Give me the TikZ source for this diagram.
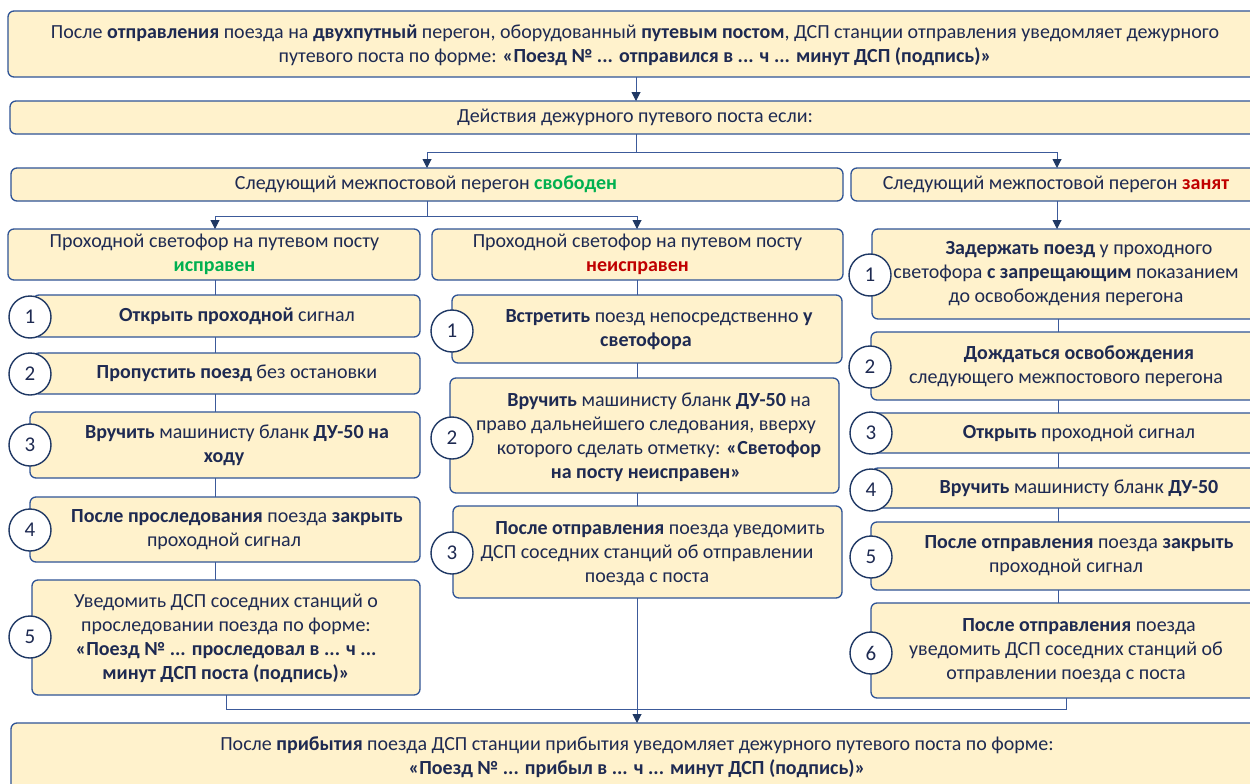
\documentclass[tikz,border=0pt]{standalone}
\usepackage{fontspec}
\setmainfont{Carlito}
\usetikzlibrary{arrows.meta}
\definecolor{boxfill}{HTML}{FFF2CC}
\definecolor{boxline}{HTML}{2F5496}
\definecolor{linkline}{HTML}{3C5A9A}
\definecolor{navy}{HTML}{1F3864}
\definecolor{ink}{HTML}{1E2A52}
\definecolor{okgreen}{HTML}{00B050}
\definecolor{badred}{HTML}{C00000}
% first-line indent used in the step boxes
\newcommand\lead{\hspace*{26pt}}
\tikzset{
  box/.style={draw=boxline, fill=boxfill, line width=1.3pt, rounded corners=6pt},
  txt/.style={text=ink, align=center, inner sep=0pt, font=\fontsize{20}{24}\selectfont},
  num/.style={circle, draw=navy, fill=white, line width=1.4pt, minimum size=42pt,
    inner sep=0pt, text=ink, font=\fontsize{21}{24}\selectfont},
  conn/.style={draw=linkline, line width=1pt},
  arr/.style={conn, -{Triangle[width=9pt,length=9pt,fill=navy,color=navy]}},
}
\newcommand\boxat[5]{% name, x1, y1, x2, y2
  \path[box] (#2,#3) rectangle (#4,#5);
  \coordinate (#1) at ({(#2+#4)/2},{(#3+#5)/2});
  \coordinate (#1-n) at ({(#2+#4)/2},#3);
  \coordinate (#1-s) at ({(#2+#4)/2},#5);
}
\begin{document}
\begin{tikzpicture}[x=1pt,y=-1pt]
\clip (0,0) rectangle (1250,784);
\fill[white] (0,0) rectangle (1250,784);

% ---- boxes ----
\boxat{top}{8}{11}{1256}{77}
\boxat{act}{10}{101}{1256}{134}
\boxat{free}{11}{168}{843}{201}
\boxat{busy}{851}{168}{1256}{201}
\boxat{okL}{8}{229}{420}{280}
\boxat{badM}{432}{229}{843}{280}
\boxat{L1}{33}{295}{420}{337}
\boxat{L2}{33}{353}{420}{394}
\boxat{L3}{30}{412}{420}{478}
\boxat{L4}{30}{497}{420}{562}
\boxat{L5}{32}{580}{420}{695}
\boxat{M1}{452}{295}{842}{363}
\boxat{M2}{450}{378}{839}{493}
\boxat{M3}{453}{506}{842}{598}
\boxat{R1}{872}{229}{1256}{319}
\boxat{R2}{871}{332}{1256}{400}
\boxat{R3}{872}{413}{1256}{453}
\boxat{R4}{872}{468}{1256}{508}
\boxat{R5}{871}{522}{1256}{590}
\boxat{R6}{871}{603}{1256}{698}
\boxat{bot}{11}{723}{1256}{792}

% ---- texts ----
\node[txt] (topt) at (635,45) {После \textbf{отправления} поезда на \textbf{двухпутный} перегон, оборудованный \textbf{путевым постом}, ДСП станции отправления уведомляет дежурного\\путевого поста по форме: \textbf{«Поезд № ... отправился в ... ч ... минут ДСП (подпись)»}};
\node[txt] (actt) at (635,117.5) {Действия дежурного путевого поста если:};
\node[txt] (freet) at (426,184.5) {Следующий межпостовой перегон \textbf{\color{okgreen}свободен}};
\node[txt] (busyt) at (1056,184.5) {Следующий межпостовой перегон \textbf{\color{badred}занят}};
\node[txt] (okLt) at (214.5,254.5) {Проходной светофор на путевом посту\\\textbf{\color{okgreen}исправен}};
\node[txt] (badMt) at (637.5,254.5) {Проходной светофор на путевом посту\\\textbf{\color{badred}неисправен}};

\node[txt] (L1t) at (224,316) {\lead\textbf{Открыть проходной} сигнал};
\node[txt] (L2t) at (224,373.5) {\lead\textbf{Пропустить поезд} без остановки};
\node[txt] (L3t) at (224,445) {\lead\textbf{Вручить} машинисту бланк \textbf{ДУ-50 на}\\\textbf{ходу}};
\node[txt] (L4t) at (224,529.5) {\lead\textbf{После проследования} поезда \textbf{закрыть}\\проходной сигнал};
\node[txt] (L5t) at (226,638) {Уведомить ДСП соседних станций о\\проследовании поезда по форме:\\\textbf{«Поезд № ... проследовал в ... ч ...}\\\textbf{минут ДСП поста (подпись)»}};

\node[txt] (M1t) at (646,330) {\lead\textbf{Встретить} поезд непосредственно \textbf{у}\\\textbf{светофора}};
\node[txt] (M2t) at (646,437) {\lead\textbf{Вручить} машинисту бланк \textbf{ДУ-50} на\\право дальнейшего следования, вверху\\\lead которого сделать отметку: \textbf{«Светофор}\\\textbf{на посту неисправен»}};
\node[txt] (M3t) at (647,553.5) {\lead\textbf{После отправления} поезда уведомить\\ДСП соседних станций об отправлении\\поезда с поста};

\node[txt] (R1t) at (1066,274) {\lead\textbf{Задержать поезд} у проходного\\светофора \textbf{с запрещающим} показанием\\до освобождения перегона};
\node[txt] (R2t) at (1066,366) {\lead\textbf{Дождаться освобождения}\\следующего межпостового перегона};
\node[txt] (R3t) at (1066,433) {\lead\textbf{Открыть} проходной сигнал};
\node[txt] (R4t) at (1066,488) {\lead\textbf{Вручить} машинисту бланк \textbf{ДУ-50}};
\node[txt] (R5t) at (1066,556) {\lead\textbf{После отправления} поезда \textbf{закрыть}\\проходной сигнал};
\node[txt] (R6t) at (1066,651) {\lead\textbf{После отправления} поезда\\уведомить ДСП соседних станций об\\отправлении поезда с поста};

\node[txt] (bott) at (637,757) {После \textbf{прибытия} поезда ДСП станции прибытия уведомляет дежурного путевого поста по форме:\\\textbf{«Поезд № ... прибыл в ... ч ... минут ДСП (подпись)»}};

% ---- branch points ----
\coordinate (split1) at (636,152);
\coordinate (split2) at (427,216);
\coordinate (join) at (637,709);

% ---- connectors ----
\draw[arr] (top-s -| 636,0) -- (act-n -| 636,0);
\draw[conn] (act-s -| split1) -- (split1);
\draw[arr] (split1) -| (free-n -| split2);
\draw[arr] (split1) -| (busy-n -| 1057,0);
\draw[conn] (free-s -| split2) -- (split2);
\draw[arr] (split2) -| (okL-n -| 215,0);
\draw[arr] (split2) -| (badM-n -| 637,0);
\draw[arr] (busy-s -| 1057,0) -- (R1-n -| 1057,0);

% left column
\draw[conn] (okL-s -| 215,0) -- (L1-n -| 215,0);
\draw[conn] (L1-s -| 215,0) -- (L2-n -| 215,0);
\draw[conn] (L2-s -| 215,0) -- (L3-n -| 215,0);
\draw[conn] (L3-s -| 215,0) -- (L4-n -| 215,0);
\draw[conn] (L4-s -| 215,0) -- (L5-n -| 215,0);
% middle column
\draw[conn] (badM-s -| 637,0) -- (M1-n -| 637,0);
\draw[conn] (M1-s -| 637,0) -- (M2-n -| 637,0);
\draw[conn] (M2-s -| 637,0) -- (M3-n -| 637,0);
% right column
\draw[conn] (R1-s -| 1058,0) -- (R2-n -| 1058,0);
\draw[conn] (R2-s -| 1058,0) -- (R3-n -| 1058,0);
\draw[conn] (R3-s -| 1058,0) -- (R4-n -| 1058,0);
\draw[conn] (R4-s -| 1058,0) -- (R5-n -| 1058,0);
\draw[conn] (R5-s -| 1058,0) -- (R6-n -| 1058,0);

% merge into the final box
\draw[conn] (L5-s -| 226,0) |- (join);
\draw[conn] (R6-s -| 1066,0) |- (join);
\draw[arr] (M3-s -| join) -- (bot-n -| join);

% ---- step numbers ----
\node[num] (cL1) at (30,317) {1};
\node[num] (cL2) at (30,374) {2};
\node[num] (cL3) at (30,445) {3};
\node[num] (cL4) at (30,530) {4};
\node[num] (cL5) at (30,637) {5};
\node[num] (cM1) at (452,331) {1};
\node[num] (cM2) at (452,438) {2};
\node[num] (cM3) at (452,553) {3};
\node[num] (cR1) at (870,275) {1};
\node[num] (cR2) at (870,367) {2};
\node[num] (cR3) at (871,433) {3};
\node[num] (cR4) at (871,490) {4};
\node[num] (cR5) at (871,557) {5};
\node[num] (cR6) at (871,653) {6};
\end{tikzpicture}
\end{document}
